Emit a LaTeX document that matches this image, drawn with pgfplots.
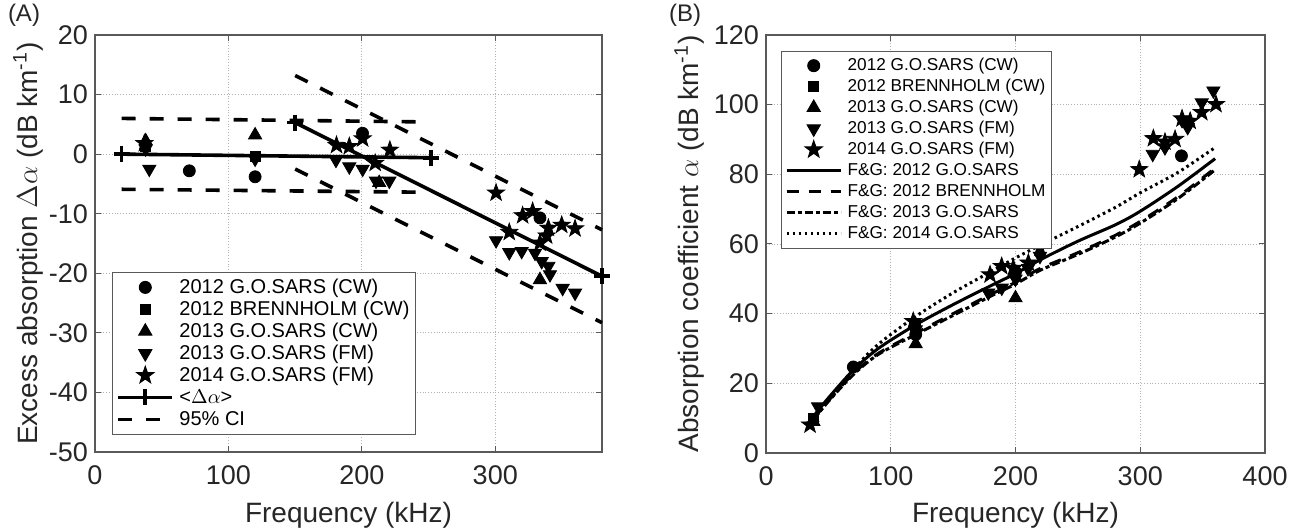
\documentclass[border=0pt]{standalone}
\usepackage{fontspec}
\setmainfont{Liberation Sans}
\usepackage{pgfplots}
\pgfplotsset{compat=1.18}
\usetikzlibrary{plotmarks}

\pgfdeclareplotmark{fstar}{%
  \pgfpathmoveto{\pgfpointpolar{90}{\pgfplotmarksize}}%
  \pgfpathlineto{\pgfpointpolar{126}{0.40\pgfplotmarksize}}%
  \pgfpathlineto{\pgfpointpolar{162}{\pgfplotmarksize}}%
  \pgfpathlineto{\pgfpointpolar{198}{0.40\pgfplotmarksize}}%
  \pgfpathlineto{\pgfpointpolar{234}{\pgfplotmarksize}}%
  \pgfpathlineto{\pgfpointpolar{270}{0.40\pgfplotmarksize}}%
  \pgfpathlineto{\pgfpointpolar{306}{\pgfplotmarksize}}%
  \pgfpathlineto{\pgfpointpolar{342}{0.40\pgfplotmarksize}}%
  \pgfpathlineto{\pgfpointpolar{18}{\pgfplotmarksize}}%
  \pgfpathlineto{\pgfpointpolar{54}{0.40\pgfplotmarksize}}%
  \pgfpathclose\pgfusepathqfillstroke}

\pgfplotsset{
  mystyle/.style={
    scale only axis,
    axis line style={black!65, line width=0.6pt},
    tick align=inside,
    major tick length=3pt,
    tick style={black!65, line width=0.5pt},
    grid=major,
    major grid style={densely dotted, black!30, line width=0.4pt},
    ticklabel style={font=\fontsize{13.5}{15}\selectfont, text=black!85},
    xticklabel style={yshift=-3.3pt},
    /pgf/number format/assume math mode=true,
    label style={font=\fontsize{14}{16}\selectfont, text=black!85},
    clip=false,
    legend cell align=left,
    legend style={draw=black!65, line width=0.5pt,
      inner sep=2pt, row sep=0pt, column sep=1.5pt},
    legend image code/.code={\draw[mark repeat=2,mark phase=2,##1] plot coordinates {(0pt,0pt) (13.5pt,0pt) (27pt,0pt)};},
  },
  sA/.style={only marks, mark=*, mark size=3pt, black},
  sB/.style={only marks, mark=square*, mark size=2.5pt, black},
  sC/.style={only marks, mark=triangle*, mark size=3.8pt, black},
  sD/.style={only marks, mark=triangle*, mark size=3.8pt, mark options={rotate=180}, black},
  sE/.style={only marks, mark=fstar, mark size=4.5pt, black},
}

\begin{document}
\begin{tikzpicture}
\path[use as bounding box] (0pt,0pt) rectangle (649.5pt,264pt);

% ---------------- Panel A ----------------
\begin{axis}[mystyle, at={(47.5pt,38pt)}, anchor=south west,
  width=253.5pt, height=208.5pt,
  xmin=0, xmax=380, ymin=-50, ymax=20,
  xtick={0,100,200,300}, ytick={-50,-40,-30,-20,-10,0,10,20},
  xlabel={Frequency (kHz)},
  ylabel={Excess absorption $\Delta\alpha$ (dB km\textsuperscript{-1})},
  xlabel style={at={(axis description cs:0.5,-0.151)},anchor=center},
  ylabel style={at={(axis description cs:-0.132,0.5)},anchor=center},
  legend style={at={(axis description cs:0.0335,0.041)},anchor=south west,
    font=\fontsize{10}{12}\selectfont,
    nodes={inner sep=1.2pt, text height=7.2pt, text depth=1.4pt}}]
\addlegendimage{sA}
\addlegendimage{sB}
\addlegendimage{sC}
\addlegendimage{sD}
\addlegendimage{sE}
\addlegendimage{black, line width=1.8pt, mark=+, mark size=4pt}
\addlegendimage{black, line width=1.8pt, dash pattern=on 7pt off 7pt}

% lines
\addplot[forget plot, black, line width=1.8pt, mark=+, mark size=4pt] coordinates {(20,0) (252,-0.6)};
\addplot[forget plot, black, line width=1.8pt, mark=+, mark size=4pt] coordinates {(150,5.3) (380,-20.5)};
\addplot[forget plot, black, line width=1.8pt, dash pattern=on 7pt off 7pt] coordinates {(20,6.0) (250,5.4)};
\addplot[forget plot, black, line width=1.8pt, dash pattern=on 7pt off 7pt] coordinates {(20,-5.9) (250,-6.4)};
\addplot[forget plot, black, line width=1.8pt, dash pattern=on 7pt off 7pt] coordinates {(150,13.2) (380,-12.7)};
\addplot[forget plot, black, line width=1.8pt, dash pattern=on 7pt off 7pt] coordinates {(150,-2.5) (380,-28.3)};

% markers
\addplot[forget plot, sA] coordinates {(70.7,-2.8) (120,-3.8) (200.5,3.5) (333.5,-10.7)};
\addplot[forget plot, sB] coordinates {(38,1.3) (120,-0.3)};
\addplot[forget plot, sC] coordinates {(38,2.2) (120,3.2) (213,-4.8) (333.5,-21.1)};
\addplot[forget plot, sD] coordinates {(38,0.9) (40.7,-2.5) (120,-0.8) (180.6,-1) (190.6,-2.1) (200.6,-2.5) (210.6,-4.5) (220.6,-4.5) (300.6,-14.5) (310.5,-16.5) (319.8,-16.3) (329.8,-16.6) (334.8,-18) (339.8,-18.8) (341,-20.2) (350.5,-22.5) (359.8,-23.3)};
\addplot[forget plot, sE] coordinates {(37,1.8) (181,1.5) (190.6,1.3) (200.6,2.6) (210,-1.5) (221,0.7) (300.6,-6.5) (310.5,-13.1) (320.5,-10.3) (328,-9.6) (333.5,-14.9) (338.5,-13.7) (339.8,-12.4) (349.8,-11.9) (359.8,-12.5)};

\legend{2012 G.O.SARS (CW), 2012 BRENNHOLM (CW), 2013 G.O.SARS (CW), 2013 G.O.SARS (FM), 2014 G.O.SARS (FM), <$\Delta\alpha$>, 95\% CI}
\end{axis}

% ---------------- Panel B ----------------
\begin{axis}[mystyle, at={(383pt,37.5pt)}, anchor=south west,
  width=249.5pt, height=209pt,
  xmin=0, xmax=400, ymin=0, ymax=120,
  xtick={0,100,200,300,400}, ytick={0,20,40,60,80,100,120},
  xlabel={Frequency (kHz)},
  ylabel={Absorption coefficient $\alpha$ (dB km\textsuperscript{-1})},
  xlabel style={at={(axis description cs:0.5,-0.148)},anchor=center},
  ylabel style={at={(axis description cs:-0.154,0.5)},anchor=center},
  legend style={at={(axis description cs:0.0295,0.9625)},anchor=north west,
    font=\fontsize{8.6}{10}\selectfont,
    nodes={inner sep=1.2pt, text height=6.6pt, text depth=1.5pt}}]
\addlegendimage{sA}
\addlegendimage{sB}
\addlegendimage{sC}
\addlegendimage{sD}
\addlegendimage{sE}
\addlegendimage{black, line width=1.5pt}
\addlegendimage{black, line width=1.5pt, dash pattern=on 6pt off 5pt}
\addlegendimage{black, line width=1.5pt, dash pattern=on 4pt off 1.5pt on 2pt off 1.5pt}
\addlegendimage{black, line width=1.5pt, dash pattern=on 1.3pt off 1.7pt}

% F&G curves
\addplot[forget plot, black, line width=1.5pt, smooth] coordinates {(38,10.5) (50,15.8) (70,23.8) (90,30) (120,36.8) (150,42.6) (180,48) (200,51.5) (220,55.5) (250,60.8) (280,65.5) (300,69.4) (330,76.5) (360,84.5)};
\addplot[forget plot, black, line width=1.5pt, smooth, dash pattern=on 4pt off 1.5pt on 2pt off 1.5pt] coordinates {(38,9.5) (50,14.8) (70,22.5) (90,28.3) (120,34) (150,39.5) (180,45) (200,48.5) (220,52.5) (250,57) (280,62) (300,66) (330,73) (360,81.3)};
\addplot[forget plot, black, line width=1.5pt, smooth, dash pattern=on 6pt off 5pt] coordinates {(38,9.7) (50,15) (70,22.8) (90,28.6) (120,34.4) (150,40) (180,45.5) (200,49) (220,53) (250,57.5) (280,62.5) (300,66.5) (330,73.5) (360,81.8)};
\addplot[forget plot, black, line width=1.5pt, smooth, dash pattern=on 1.3pt off 1.7pt] coordinates {(38,9.5) (50,15.2) (70,24) (90,31.2) (120,39.2) (150,46) (180,52) (200,56) (220,59.7) (250,65) (280,70.5) (300,74.7) (330,80.5) (360,87.7)};

% markers
\addplot[forget plot, sA] coordinates {(70,24.7) (120,34) (200,52) (333,85.3)};
\addplot[forget plot, sB] coordinates {(38,10) (120,36.5)};
\addplot[forget plot, sC] coordinates {(38,9) (120,31.3) (200,44.5)};
\addplot[forget plot, sD] coordinates {(41.7,13.3) (120,35.4) (178.2,46) (189,47.4) (200,50) (210,53) (219.6,56.5) (310,85.8) (319.8,87.7) (333.5,95.5) (338,93.5) (349.3,100.6) (358.6,104)};
\addplot[forget plot, sE] coordinates {(35.3,8.1) (118,37.8) (179.6,51.2) (188.9,53.6) (198.2,53.1) (210.3,54.6) (219.6,58.9) (299.2,81.4) (310.5,90.3) (319.8,89.3) (327.9,90.1) (333.5,96) (340,95.3) (349.3,97.8) (360.7,100.1)};

\legend{2012 G.O.SARS (CW), 2012 BRENNHOLM (CW), 2013 G.O.SARS (CW), 2013 G.O.SARS (FM), 2014 G.O.SARS (FM), F\&G: 2012 G.O.SARS, F\&G: 2012 BRENNHOLM, F\&G: 2013 G.O.SARS, F\&G: 2014 G.O.SARS}
\end{axis}

\node[font=\fontsize{12}{14}\selectfont, text=black!85] at (12pt,256.5pt) {(A)};
\node[font=\fontsize{12}{14}\selectfont, text=black!85] at (342.5pt,256.5pt) {(B)};
\end{tikzpicture}
\end{document}
